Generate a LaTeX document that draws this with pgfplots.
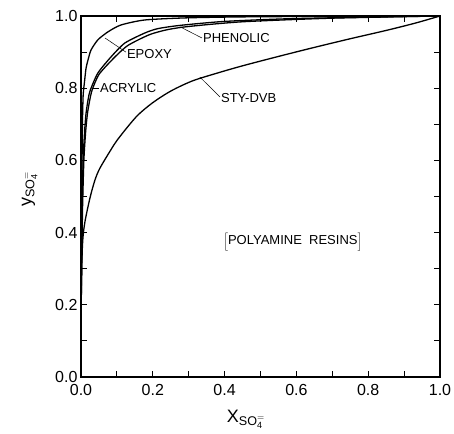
\documentclass[border=0pt]{standalone}
\usepackage{fontspec}
\setmainfont{Liberation Sans}
\usepackage{pgfplots}
\pgfplotsset{compat=1.18}

\begin{document}
\begin{tikzpicture}
\begin{axis}[
  name=ax,
  scale only axis,
  width=359pt, height=361pt,
  xmin=0, xmax=1, ymin=0, ymax=1,
  xtick={0,0.2,...,1}, ytick={0,0.2,...,1},
  minor tick num=1,
  tick align=inside,
  major tick length=6pt, minor tick length=6pt,
  every tick/.style={black, line width=0.9pt},
  axis line style={line width=1.4pt},
  tick label style={font=\fontsize{16}{18}\selectfont},
  /pgf/number format/assume math mode=true,
  /pgf/number format/fixed,
  /pgf/number format/fixed zerofill,
  /pgf/number format/precision=1,
  xlabel={\fontsize{18}{20}\selectfont X$_{\mathrm{SO}_{\mathrm{4}}^{=}}$},
  ylabel={\fontsize{18}{20}\selectfont y$_{\mathrm{SO}_{\mathrm{4}}^{=}}$},
  xlabel style={at={(axis description cs:0.46,0)}, anchor=north, yshift=-30pt},
  ylabel style={at={(axis description cs:0,0.52)}, anchor=south, yshift=40pt},
  xticklabel style={yshift=-4pt},
  clip=false,
]
% EPOXY
\addplot[black, line width=1.3pt, smooth, tension=0.4] coordinates {
 (0,0.15) (0.002,0.5) (0.004,0.7) (0.006,0.78) (0.01,0.82) (0.014,0.855)
 (0.02,0.88) (0.028,0.906) (0.047,0.934) (0.075,0.956) (0.111,0.975)
 (0.178,0.989) (0.3,0.995) (0.5,0.998) (1,1)};
% PHENOLIC
\addplot[black, line width=1.3pt, smooth, tension=0.4] coordinates {
 (0,0.15) (0.003,0.45) (0.006,0.6) (0.01,0.68) (0.014,0.73) (0.02,0.77)
 (0.026,0.795) (0.047,0.842) (0.083,0.886) (0.122,0.925) (0.178,0.953)
 (0.214,0.965) (0.276,0.974) (0.4,0.985) (0.6,0.993) (1,1)};
% ACRYLIC
\addplot[black, line width=1.3pt, smooth, tension=0.4] coordinates {
 (0,0.15) (0.004,0.45) (0.008,0.6) (0.013,0.68) (0.018,0.73) (0.024,0.765)
 (0.031,0.795) (0.05,0.838) (0.09,0.882) (0.13,0.918) (0.19,0.948)
 (0.24,0.962) (0.3,0.971) (0.45,0.984) (0.7,0.994) (1,1)};
% STY-DVB
\addplot[black, line width=1.3pt, smooth, tension=0.5] coordinates {
 (0,0.15) (0.002,0.3) (0.005,0.38) (0.011,0.43) (0.025,0.496) (0.039,0.546)
 (0.053,0.579) (0.083,0.629) (0.1,0.655) (0.13,0.693) (0.16,0.727)
 (0.2,0.76) (0.25,0.792) (0.31,0.82) (0.38,0.842) (0.45,0.862)
 (0.55,0.888) (0.65,0.913) (0.75,0.937) (0.85,0.96) (0.93,0.98) (1,1)};

% leaders and labels
\draw[black, line width=0.5pt] (axis cs:0.067,0.939) -- (axis cs:0.125,0.900);
\node[anchor=west, inner sep=1pt, font=\fontsize{13}{15}\selectfont] at (axis cs:0.125,0.895) {EPOXY};
\draw[black, line width=0.5pt] (axis cs:0.276,0.970) -- (axis cs:0.337,0.939);
\node[anchor=west, inner sep=1pt, font=\fontsize{13}{15}\selectfont] at (axis cs:0.337,0.939) {PHENOLIC};
\draw[black, line width=0.5pt] (axis cs:0.033,0.80) -- (axis cs:0.05,0.80);
\node[anchor=west, inner sep=1pt, font=\fontsize{13}{15}\selectfont] at (axis cs:0.05,0.80) {ACRYLIC};
\draw[black, line width=0.5pt] (axis cs:0.331,0.831) -- (axis cs:0.387,0.776);
\node[anchor=west, inner sep=1pt, font=\fontsize{13}{15}\selectfont] at (axis cs:0.387,0.772) {STY-DVB};
\node[font=\fontsize{13}{15}\selectfont] at (axis cs:0.59,0.374) {$\Big[$POLYAMINE\ \ RESINS$\Big]$};
\end{axis}
\pgfresetboundingbox
\path[use as bounding box] (ax.south west) ++(-81pt,-56pt) rectangle ([shift={(14pt,16pt)}]ax.north east);
\end{tikzpicture}
\end{document}
